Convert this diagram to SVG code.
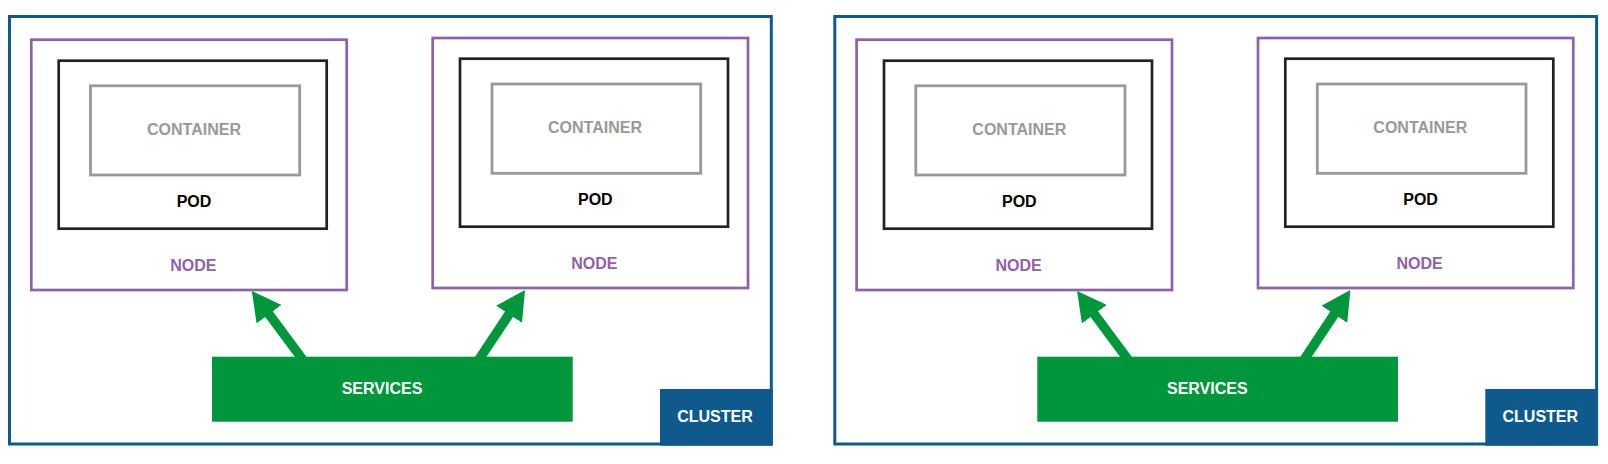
<svg xmlns="http://www.w3.org/2000/svg" width="1608" height="464" viewBox="0 0 1608 464">
<style>
  text { font-family: "Liberation Sans", Arial, sans-serif; font-size: 16px; font-weight: bold; text-anchor: middle; }
  .cluster { fill: none; stroke: #0e5a8c; stroke-width: 3; }
  .node { fill: none; stroke: #8e61a9; stroke-width: 2.7; }
  .pod { fill: none; stroke: #222222; stroke-width: 2.7; }
  .container { fill: none; stroke: #999999; stroke-width: 2.8; }
  .t-container { fill: #999999; }
  .t-pod { fill: #000000; }
  .t-node { fill: #8e61a9; }
  .services { fill: #00963b; }
  .t-white { fill: #ffffff; }
  .label { fill: #0e5a8c; }
  .conn { stroke: #00963b; stroke-width: 9.6; fill: none; marker-end: url(#arrow); }
</style>
<defs>
  <marker id="arrow" markerUnits="userSpaceOnUse" markerWidth="30" markerHeight="31" refX="9" refY="15.5" orient="auto">
    <path d="M0,0 L29,15.5 L0,31 Z" fill="#00963b"/>
  </marker>
</defs>
<rect x="0" y="0" width="1608" height="464" fill="#ffffff"/>

<g id="cluster-1">
  <rect class="cluster" x="9.5" y="16.5" width="761.8" height="427.5"/>
  <g id="node-1a">
    <rect class="node" x="31.3" y="39.7" width="315.4" height="250.3"/>
    <text class="t-node" x="193.3" y="271">NODE</text>
    <g id="pod-1a">
      <rect class="pod" x="58.7" y="60.7" width="268" height="168"/>
      <text class="t-pod" x="194" y="206.7">POD</text>
      <g id="container-1a">
        <rect class="container" x="90.5" y="85.8" width="209.2" height="89.2"/>
        <text class="t-container" x="194" y="135">CONTAINER</text>
      </g>
    </g>
  </g>
  <g id="node-1b">
    <rect class="node" x="432.7" y="38" width="315.3" height="250"/>
    <text class="t-node" x="594.3" y="269">NODE</text>
    <g id="pod-1b">
      <rect class="pod" x="460" y="58.7" width="268" height="168"/>
      <text class="t-pod" x="595.3" y="205">POD</text>
      <g id="container-1b">
        <rect class="container" x="492" y="84" width="208.7" height="89.3"/>
        <text class="t-container" x="595" y="133.3">CONTAINER</text>
      </g>
    </g>
  </g>
  <g id="connectors-1">
    <line class="conn" x1="304.5" y1="362" x2="263.7" y2="307"/>
    <line class="conn" x1="477.2" y1="362.2" x2="514" y2="306.7"/>
  </g>
  <g id="services-1">
    <rect class="services" x="212" y="356.7" width="360.7" height="65"/>
    <text class="t-white" x="382" y="394">SERVICES</text>
  </g>
  <g id="cluster-label-1">
    <rect class="label" x="660" y="389" width="112.7" height="56.7"/>
    <text class="t-white" x="715" y="422.3">CLUSTER</text>
  </g>
</g>

<g id="cluster-2" transform="translate(825.3,0)">
  <rect class="cluster" x="9.5" y="16.5" width="761.8" height="427.5"/>
  <g id="node-2a">
    <rect class="node" x="31.3" y="39.7" width="315.4" height="250.3"/>
    <text class="t-node" x="193.3" y="271">NODE</text>
    <g id="pod-2a">
      <rect class="pod" x="58.7" y="60.7" width="268" height="168"/>
      <text class="t-pod" x="194" y="206.7">POD</text>
      <g id="container-2a">
        <rect class="container" x="90.5" y="85.8" width="209.2" height="89.2"/>
        <text class="t-container" x="194" y="135">CONTAINER</text>
      </g>
    </g>
  </g>
  <g id="node-2b">
    <rect class="node" x="432.7" y="38" width="315.3" height="250"/>
    <text class="t-node" x="594.3" y="269">NODE</text>
    <g id="pod-2b">
      <rect class="pod" x="460" y="58.7" width="268" height="168"/>
      <text class="t-pod" x="595.3" y="205">POD</text>
      <g id="container-2b">
        <rect class="container" x="492" y="84" width="208.7" height="89.3"/>
        <text class="t-container" x="595" y="133.3">CONTAINER</text>
      </g>
    </g>
  </g>
  <g id="connectors-2">
    <line class="conn" x1="304.5" y1="362" x2="263.7" y2="307"/>
    <line class="conn" x1="477.2" y1="362.2" x2="514" y2="306.7"/>
  </g>
  <g id="services-2">
    <rect class="services" x="212" y="356.7" width="360.7" height="65"/>
    <text class="t-white" x="382" y="394">SERVICES</text>
  </g>
  <g id="cluster-label-2">
    <rect class="label" x="660" y="389" width="112.7" height="56.7"/>
    <text class="t-white" x="715" y="422.3">CLUSTER</text>
  </g>
</g>
</svg>
